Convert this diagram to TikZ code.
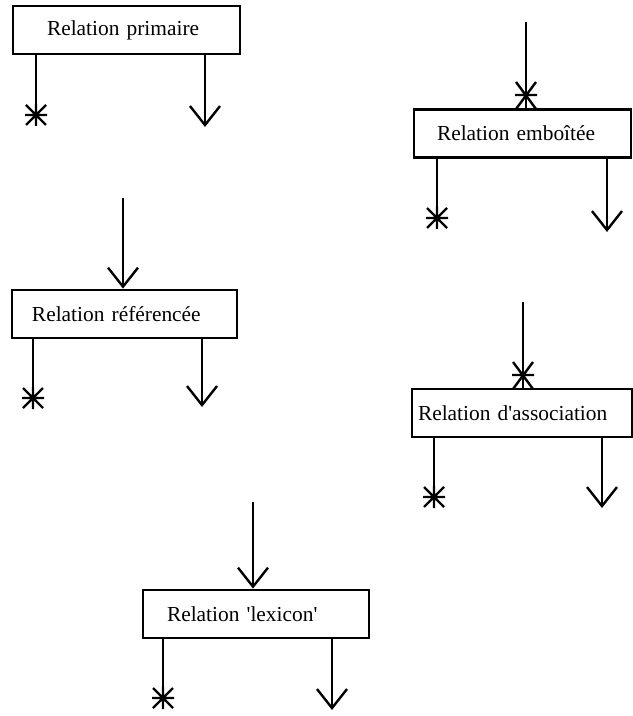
\documentclass[tikz,border=0pt]{standalone}
\usepackage{fontspec}
\setmainfont{Liberation Serif}
\usetikzlibrary{arrows.meta}
\begin{document}
\begin{tikzpicture}[x=0.5pt,y=-0.5pt,
  relbox/.style={draw,line width=1.4pt,rectangle,minimum height=24pt,
    align=left,font=\fontsize{10.7}{12}\selectfont,inner ysep=0pt},
  stem/.style={line width=1.2pt},
  arrowstem/.style={line width=1.2pt,-{Straight Barb[length=9.5pt,width=15pt,line width=1.2pt]}},
  ast/.pic={\draw[line width=1.2pt] (-11,0)--(11,0) (-10,-10)--(10,10) (-10,10)--(10,-10) (0,-11)--(0,11);},
  topast/.pic={\draw[line width=1.2pt] (-11,0)--(11,0) (-10,-13)--(10,14) (10,-13)--(-10,14);}
]
\useasboundingbox (0,0) rectangle (632,716);

% boxes
\node[relbox,text width=79.5pt,inner xsep=17pt]   (b1) at (126.5,30)  {Relation primaire};
\node[relbox,text width=85.5pt,inner xsep=11.5pt] (b2) at (522.5,133.5) {Relation emboîtée};
\node[relbox,text width=92.5pt,inner xsep=10pt]   (b3) at (124.5,314) {Relation référencée};
\node[relbox,text width=104pt,inner xsep=3pt]     (b4) at (522,413)   {Relation d\textquotesingle association};
\node[relbox,text width=89pt,inner xsep=12pt]     (b5) at (256,614)   {Relation \textquotesingle lexicon\textquotesingle};

% free ends of the connectors
\coordinate (b1a) at (36,115);  \coordinate (b1r) at (205,127);
\coordinate (b2a) at (437,218); \coordinate (b2r) at (607,232);
\coordinate (b2t) at (526,22);  \coordinate (b2s) at (526,95);
\coordinate (b3a) at (33,398);  \coordinate (b3r) at (202,407);
\coordinate (b3t) at (123,198);
\coordinate (b4a) at (434,497); \coordinate (b4r) at (602,508);
\coordinate (b4t) at (523,302); \coordinate (b4s) at (523,375);
\coordinate (b5a) at (163,698); \coordinate (b5r) at (332,710);
\coordinate (b5t) at (253,502);

% outgoing connectors
\foreach \b in {b1,b2,b3,b4,b5}{
  \draw[stem] (\b.south -| \b a) -- (\b a);
  \pic at (\b a) {ast};
  \draw[arrowstem] (\b.south -| \b r) -- (\b r);
}

% incoming connectors
\draw[stem] (b2t) -- (b2t |- b2.north);
\pic at (b2s) {topast};
\draw[stem] (b4t) -- (b4t |- b4.north);
\pic at (b4s) {topast};
\draw[arrowstem] (b3t) -- (b3t |- b3.north);
\draw[arrowstem] (b5t) -- (b5t |- b5.north);
\end{tikzpicture}
\end{document}
